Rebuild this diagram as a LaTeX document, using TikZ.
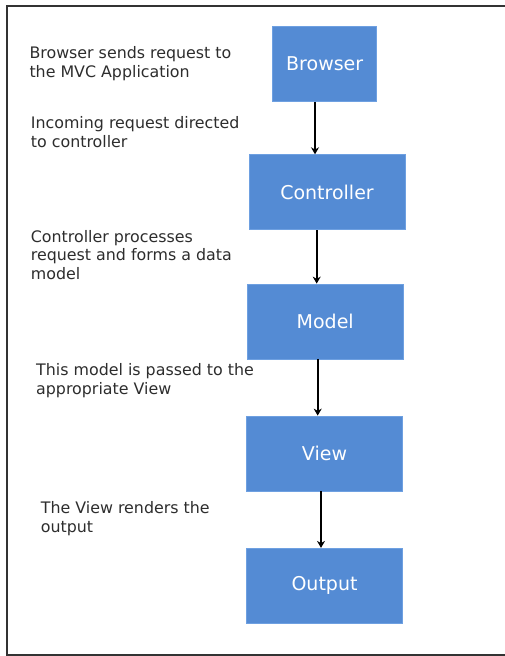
\documentclass[tikz,border=0pt]{standalone}
\usepackage{fontspec}
\setmainfont{DejaVu Sans}
\usetikzlibrary{arrows.meta, positioning}

\definecolor{mvcblue}{RGB}{84,139,212}
\definecolor{mvcedge}{RGB}{110,160,225}
\definecolor{notegray}{RGB}{45,45,45}

\begin{document}
\begin{tikzpicture}[x=1pt, y=-1pt,
      stage/.style={draw=mvcedge, fill=mvcblue, line width=0.8pt,
                    minimum height=75pt, inner sep=0pt,
                    text=white, font=\fontsize{19}{22}\selectfont},
      note/.style={anchor=west, inner sep=0pt, align=left, text=notegray,
                   font=\fontsize{15.85}{18.5}\selectfont},
      flow/.style={-{Stealth[length=7pt, width=8pt]}, line width=2.2pt},
      frame/.style={line width=2pt, draw=black!80}]

    \useasboundingbox (0,0) rectangle (505,656);

    % ===== outer frame (right side cut off) =====
    \draw[frame] (505,5.5) -- (7,5.5) -- (7,655) -- (505,655);

    % ===== stages =====
    \node[stage, minimum width=104pt] (browser) at (324.7, 63.9)  {Browser};
    \node[stage, minimum width=156pt] (ctrl)    at (327.0, 192.2) {Controller};
    \node[stage, minimum width=156pt] (model)   at (325.2, 321.5) {Model};
    \node[stage, minimum width=156pt] (view)    at (324.5, 453.5) {View};
    \node[stage, minimum width=156pt] (output)  at (324.5, 585.8) {Output};

    % ===== notes =====
    \node[note] (nbrowser) at (29.3, 63.4)  {Browser sends request to\\the MVC Application};
    \node[note] (nctrl)    at (30.7, 131.9) {Incoming request directed\\to controller};
    \node[note] (nmodel)   at (30.7, 255.0) {Controller processes\\request and forms a data\\model};
    \node[note] (nview)    at (36.0, 380.5) {This model is passed to the\\appropriate View};
    \node[note] (noutput)  at (40.7, 518.8) {The View renders the\\output};

    % ===== connectors =====
    \draw[flow] ([xshift=-9.7]browser.south) -- ([xshift=-12.0]ctrl.north);
    \draw[flow] ([xshift=-10.3]ctrl.south)   -- ([xshift=-8.5]model.north);
    \draw[flow] ([xshift=-7.5]model.south)   -- ([xshift=-6.8]view.north);
    \draw[flow] ([xshift=-3.5]view.south)    -- ([xshift=-3.5]output.north);

\end{tikzpicture}
\end{document}
